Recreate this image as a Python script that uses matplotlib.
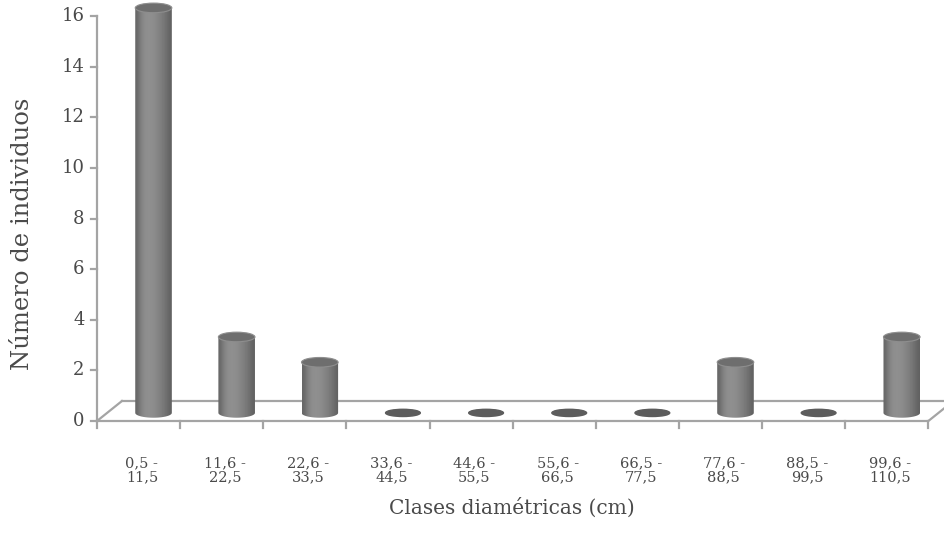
import matplotlib
matplotlib.use('Agg')
import matplotlib.pyplot as plt
import numpy as np
from matplotlib.patches import Ellipse, PathPatch
from matplotlib.path import Path

# data
clases = ['0,5 -\n11,5', '11,6 -\n22,5', '22,6 -\n33,5', '33,6 -\n44,5', '44,6 -\n55,5',
          '55,6 -\n66,5', '66,5 -\n77,5', '77,6 -\n88,5', '88,5 -\n99,5', '99,6 -\n110,5']
individuos = [16, 3, 2, 0, 0, 0, 0, 2, 0, 3]
yticks = [0, 2, 4, 6, 8, 10, 12, 14, 16]

plt.rcParams['font.family'] = ['DejaVu Serif']
axcol = '#a4a4a4'
txtcol = '#4a4a4a'

fig = plt.figure(figsize=(9.45, 5.52), dpi=100)
# y=0 at pixel 421, 16 at pixel 16; leave room above 16 for the cylinder top
ppu = 405 / 16
ymax = 16.6
ax = fig.add_axes([97/945, (552-421)/552, 848/945, ymax * ppu / 552])
n = len(individuos)
ax.set_xlim(-0.5, 9.7)
ax.set_ylim(0, ymax)
ax.axis('off')

# depth offset of the floor
dx, dy = 0.30, 0.79
x0, x1 = -0.5, n - 0.5

# floor
kw = dict(color=axcol, lw=1.6, clip_on=False, zorder=1)
ax.plot([x0, x1], [0, 0], **kw)
ax.plot([x0 + dx, x1 + dx], [dy, dy], **kw)
ax.plot([x0, x0 + dx], [0, dy], **kw)
ax.plot([x1, x1 + dx], [0, dy], **kw)
# y axis
ax.plot([x0, x0], [0, 16], **kw)
for t in yticks:
    ax.plot([x0 - 0.07, x0], [t, t], **kw)
    ax.text(x0 - 0.15, t, str(t), ha='right', va='center', fontsize=13, color=txtcol)
for i in range(n + 1):
    ax.plot([x0 + i, x0 + i], [0, -0.28], **kw)

# cylinders
w = 0.44
eh = 0.38
grad = np.array([[0.40, 0.48, 0.54, 0.56, 0.56, 0.55, 0.53, 0.50, 0.47, 0.43, 0.38]])
for i, v in enumerate(individuos):
    cx = i + 0.18
    by = 0.32
    if v == 0:
        ax.add_patch(Ellipse((cx, by), w * 0.95, eh * 0.75, color='#5c5c5c', zorder=3))
        continue
    ty = by + v
    th = np.linspace(np.pi, 2 * np.pi, 40)
    bottom = np.column_stack([cx + w / 2 * np.cos(th), by + eh / 2 * np.sin(th)])
    verts = np.vstack([bottom, [[cx + w / 2, ty], [cx - w / 2, ty], [cx - w / 2, by]]])
    body = PathPatch(Path(verts), facecolor='none', edgecolor='none', zorder=3)
    ax.add_patch(body)
    im = ax.imshow(grad, cmap='gray', vmin=0, vmax=1, aspect='auto', interpolation='bicubic',
                   extent=[cx - w / 2, cx + w / 2, by - eh, ty + eh], zorder=3)
    im.set_clip_path(body)
    ax.add_patch(Ellipse((cx, ty), w, eh, facecolor='#6e6e6e', edgecolor='#8e8e8e', lw=0.8, zorder=4))

ax.set_xlim(-0.5, 9.7)
ax.set_ylim(0, ymax)

for i, lab in enumerate(clases):
    ax.text(i + 0.04, -1.4, lab, ha='center', va='top', fontsize=10.5, color=txtcol,
            linespacing=0.95)

fig.text(512/945, 1 - 508/552, 'Clases diamétricas (cm)', ha='center', va='center',
         fontsize=14.5, color=txtcol)
fig.text(23/945, 1 - 234/552, 'Número de individuos', ha='center', va='center',
         rotation=90, fontsize=17.5, color=txtcol)

fig.savefig('out.png', dpi=100, facecolor='white')
